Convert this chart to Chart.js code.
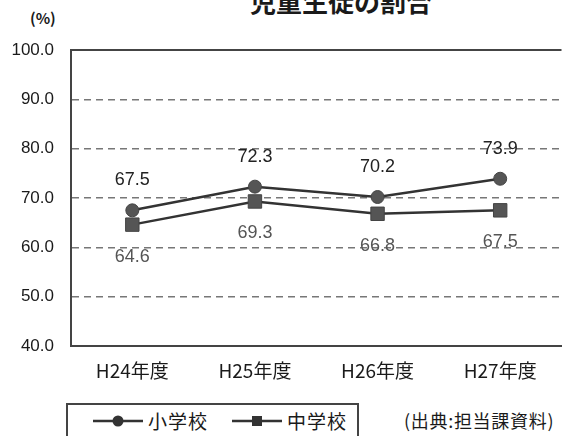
<!DOCTYPE html>
<html><head><meta charset="utf-8">
<script src="https://cdn.jsdelivr.net/npm/chart.js@4/dist/chart.umd.min.js"></script>
<style>
html,body{margin:0;padding:0;background:#fff;width:563px;height:436px;overflow:hidden;position:relative;font-family:"Liberation Sans","Noto Sans CJK JP",sans-serif;}
#wrap{position:absolute;left:0;top:0;width:572px;height:392px;}
#title{position:absolute;left:0;width:682px;top:-12px;line-height:26px;text-align:center;font:bold 26px/26px "Noto Sans CJK JP";color:#1a1a1a;white-space:nowrap;}
#unit{position:absolute;left:30px;top:7px;font:bold 15px "Noto Sans CJK JP";color:#1a1a1a;}
#legend{position:absolute;left:66px;top:403px;width:293px;height:40px;border:2px solid #444;box-sizing:border-box;font:19px "Noto Sans CJK JP";color:#1a1a1a;}
.li{position:absolute;top:2px;display:flex;align-items:center;letter-spacing:1px;white-space:nowrap;}
.li svg{margin-right:5px;}
#src{position:absolute;left:404px;top:407px;font:18px "Noto Sans CJK JP";color:#1a1a1a;letter-spacing:0.7px;white-space:nowrap;}
</style></head><body>
<div id="title">児童生徒の割合</div>
<div id="unit">(%)</div>
<div id="wrap"><canvas id="c"></canvas></div>
<div id="legend">
 <div class="li" style="left:25px"><svg width="50" height="14"><line x1="0" y1="7" x2="50" y2="7" stroke="#333" stroke-width="2.5"/><circle cx="25" cy="7" r="5.5" fill="#333"/></svg>小学校</div>
 <div class="li" style="left:164px"><svg width="50" height="14"><line x1="0" y1="7" x2="50" y2="7" stroke="#333" stroke-width="2.5"/><rect x="20" y="2" width="10" height="10" fill="#333"/></svg>中学校</div>
</div>
<div id="src">(出典:担当課資料)</div>
<script>
const categories = ["H24年度","H25年度","H26年度","H27年度"];
const elementary = [67.5, 72.3, 70.2, 73.9];
const juniorHigh = [64.6, 69.3, 66.8, 67.5];
const yTicks = [40, 50, 60, 70, 80, 90, 100];

const labelPlugin = {
  id: 'vals',
  afterDatasetsDraw(chart) {
    const ctx = chart.ctx;
    ctx.save();
    ctx.font = '18px "Liberation Sans", Arial, sans-serif';
    ctx.textAlign = 'center';
    ctx.textBaseline = 'middle';
    chart.data.datasets.forEach((ds, di) => {
      const meta = chart.getDatasetMeta(di);
      meta.data.forEach((pt, i) => {
        const v = ds.data[i];
        if (di === 0) { ctx.fillStyle = '#222'; ctx.fillText(v.toFixed(1), pt.x, pt.y - 30); }
        else { ctx.fillStyle = '#555'; ctx.fillText(v.toFixed(1), pt.x, pt.y + 32); }
      });
    });
    ctx.restore();
  },
  afterDraw(chart) {
    const a = chart.chartArea, ctx = chart.ctx;
    ctx.save();
    ctx.strokeStyle = '#444'; ctx.lineWidth = 2;
    ctx.beginPath(); ctx.moveTo(a.left, a.top); ctx.lineTo(a.right, a.top); ctx.stroke();
    ctx.restore();
  }
};

new Chart(document.getElementById('c'), {
  type: 'line',
  data: {
    labels: categories,
    datasets: [
      { label: '小学校', data: elementary, borderColor: '#333', borderWidth: 2.5, pointStyle: 'circle', pointRadius: 6.5, pointBackgroundColor: '#555', pointBorderColor: '#444', pointBorderWidth: 1, tension: 0 },
      { label: '中学校', data: juniorHigh, borderColor: '#333', borderWidth: 2.5, pointStyle: 'rect', pointRadius: 9.5, pointBackgroundColor: '#555', pointBorderColor: '#444', pointBorderWidth: 1, tension: 0 }
    ]
  },
  options: {
    responsive: true, maintainAspectRatio: false, animation: false,
    layout: { padding: { top: 50, right: 6, left: 0, bottom: 0 } },
    plugins: { legend: { display: false }, tooltip: { enabled: false }, title: { display: false } },
    scales: {
      x: {
        offset: true,
        grid: { display: false, drawTicks: false },
        border: { color: '#444', width: 2 },
        ticks: { color: '#1a1a1a', font: { family: '"Noto Sans CJK JP"', size: 19 }, padding: 13, maxRotation: 0 },
        afterFit(s) { s.height = 46; }
      },
      y: {
        min: 40, max: 100,
        afterBuildTicks(s) { s.ticks = yTicks.map(v => ({ value: v })); },
        grid: { drawTicks: false, color: (c) => (c.tick && (c.tick.value === 40 || c.tick.value === 100)) ? 'rgba(0,0,0,0)' : '#777', lineWidth: 1.5 },
        border: { color: '#444', width: 2, dash: [7, 5] },
        ticks: { color: '#1a1a1a', font: { family: '"Liberation Sans", Arial, sans-serif', size: 17 }, padding: 17, callback: (v) => Number(v).toFixed(1) },
        afterFit(s) { s.width = 71; }
      }
    }
  },
  plugins: [labelPlugin]
});
</script>
</body></html>
